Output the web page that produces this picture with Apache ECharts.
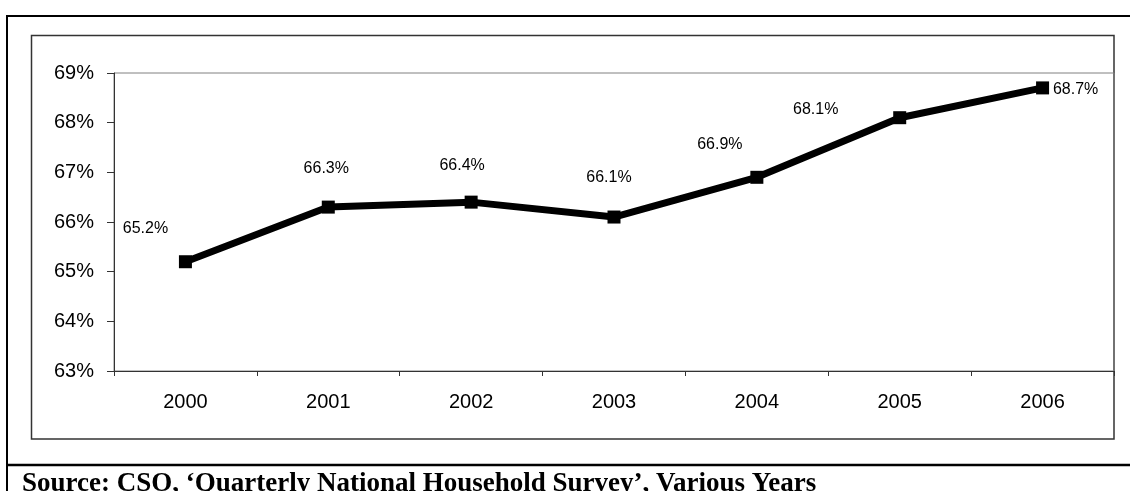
<!DOCTYPE html>
<html>
<head>
<meta charset="utf-8">
<script src="https://cdn.jsdelivr.net/npm/echarts@6/dist/echarts.min.js"></script>
<style>
  html, body { margin: 0; padding: 0; background: #ffffff; }
  #chart { width: 1130px; height: 491px; }
</style>
</head>
<body>
<div id="chart"></div>
<script>
// Participation rate by year (%)
const years = ['2000', '2001', '2002', '2003', '2004', '2005', '2006'];
const rates = [65.2, 66.3, 66.4, 66.1, 66.9, 68.1, 68.7];
const yTicks = [63, 64, 65, 66, 67, 68, 69];
const sourceNote = 'Source: CSO, \u2018Quarterly National Household Survey\u2019, Various Years';

// Hand-placed label nudges (pixels from each marker centre)
const labelNudge = [[-40, -33], [-2, -39], [-9, -37], [-5, -39], [-37, -33], [-84, -8], [33, 2]];

const chart = echarts.init(document.getElementById('chart'), null, { renderer: 'canvas' });

const seriesData = rates.map((v, i) => ({
  value: v,
  label: { offset: labelNudge[i] }
}));

chart.setOption({
  animation: false,
  backgroundColor: '#ffffff',
  grid: {
    left: 114, top: 73, right: 16, bottom: 120,
    show: true, borderColor: '#808080', borderWidth: 1, backgroundColor: 'transparent'
  },
  xAxis: {
    type: 'category',
    data: years,
    boundaryGap: true,
    axisLine: { lineStyle: { color: '#333333', width: 1 } },
    axisTick: { show: true, length: 5, inside: false, lineStyle: { color: '#333333' } },
    axisLabel: { color: '#000000', fontFamily: 'Liberation Sans, Arial, sans-serif', fontSize: 20, margin: 21 },
    splitLine: { show: false }
  },
  yAxis: {
    type: 'value',
    min: yTicks[0],
    max: yTicks[yTicks.length - 1],
    interval: 1,
    axisLine: { show: true, lineStyle: { color: '#333333', width: 1 } },
    axisTick: { show: true, length: 7, inside: false, lineStyle: { color: '#333333' } },
    axisLabel: {
      color: '#000000', fontFamily: 'Liberation Sans, Arial, sans-serif', fontSize: 20, margin: 20,
      formatter: v => v + '%'
    },
    splitLine: { show: false }
  },
  series: [{
    type: 'line',
    data: seriesData,
    lineStyle: { color: '#000000', width: 7 },
    itemStyle: { color: '#000000' },
    symbol: 'rect',
    symbolSize: 13,
    label: {
      show: true,
      position: 'inside',
      color: '#000000',
      fontFamily: 'Liberation Sans, Arial, sans-serif',
      fontSize: 16,
      formatter: p => p.value.toFixed(1) + '%'
    }
  }],
  graphic: [
    // outer frame
    { type: 'rect', silent: true, z: -1, shape: { x: 7, y: 16, width: 1140, height: 500 },
      style: { fill: 'none', stroke: '#000000', lineWidth: 2 } },
    { type: 'line', silent: true, shape: { x1: 7, y1: 465, x2: 1130, y2: 465 },
      style: { stroke: '#000000', lineWidth: 2.5 } },
    // chart area border
    { type: 'rect', silent: true, z: -1, shape: { x: 31.5, y: 35.5, width: 1082.5, height: 403.5 },
      style: { fill: 'none', stroke: '#333333', lineWidth: 1.5 } },
    // source note
    { type: 'text', silent: true, left: 22, top: 471,
      style: { text: sourceNote, fill: '#000000', font: 'bold 27px "Liberation Serif", "Times New Roman", serif' } }
  ]
});
</script>
</body>
</html>
